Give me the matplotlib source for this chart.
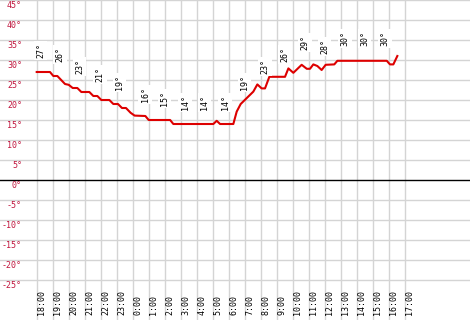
# Temperature over 24h, redrawn from a small web widget chart.
import matplotlib
matplotlib.use("Agg")
import matplotlib.pyplot as plt
import numpy as np

# hours after 18:00 and temperature readings
hours = [0.0, 0.83, 1.04, 1.29, 1.77, 2.0, 2.25, 2.54, 2.79, 3.29, 3.54, 3.79,
         4.04, 4.54, 4.79, 5.08, 5.33, 5.58, 5.87, 6.12, 6.79, 7.0, 8.34, 8.54,
         11.04, 11.25, 11.46, 12.29, 12.5, 12.75, 13.54, 13.79, 14.06, 14.27,
         14.54, 15.52, 15.73, 16.04, 16.56, 16.88, 17.08, 17.29, 17.54, 17.81,
         18.06, 18.6, 18.79, 21.88, 22.08, 22.29, 22.54]
temps = [27.0, 27.0, 26.0, 26.0, 24.0, 23.8, 23.0, 23.0, 22.0, 22.0, 21.0, 21.0,
         20.0, 20.0, 19.0, 19.0, 18.0, 18.0, 16.8, 16.1, 16.0, 15.0, 15.0, 14.0,
         14.0, 14.8, 14.0, 14.0, 17.1, 19.0, 22.1, 23.9, 22.9, 22.9,
         25.8, 25.8, 27.9, 26.8, 28.8, 27.8, 27.8, 28.9, 28.5, 27.5,
         28.8, 28.9, 29.8, 29.8, 28.9, 28.9, 31.0]

# rounded labels written above the line
label_hours = [0.25, 1.46, 2.7, 3.96, 5.2, 6.77, 8.0, 9.27, 10.5, 11.77,
               13.0, 14.27, 15.5, 16.77, 18.0, 19.27, 20.5, 21.77]
label_temps = [27, 26, 23, 21, 19, 16, 15, 14, 14, 14,
               19, 23, 26, 29, 28, 30, 30, 30]

hour_labels = ["18:00", "19:00", "20:00", "21:00", "22:00", "23:00",
               "0:00", "1:00", "2:00", "3:00", "4:00", "5:00", "6:00",
               "7:00", "8:00", "9:00", "10:00", "11:00", "12:00", "13:00",
               "14:00", "15:00", "16:00", "17:00"]
y_ticks = list(range(-25, 50, 5))

fig = plt.figure(figsize=(4.7, 3.2), dpi=100)
ax = fig.add_axes([0, 0, 1, 1])
ax.set_xlim(-36.7 / 16, (470 - 36.7) / 16)
ax.set_ylim(-35, 45)
ax.axis("off")

grid = "#d4d4d4"
for t in y_ticks:
    if t == 0:
        ax.axhline(0, color="black", lw=1.0, zorder=2)
    else:
        ax.axhline(t, color=grid, lw=1, zorder=1)
    ax.text(-0.92, t - 1.4, str(t) + "°", ha="right", va="center",
            color="#c0143c", fontsize=6, family="DejaVu Sans Mono")

for i, lab in enumerate(hour_labels):
    ax.axvline(i, color=grid, lw=1, zorder=1)
    ax.text(i + 0.31, -33.8, lab, rotation=90, ha="center", va="bottom",
            fontsize=6, family="DejaVu Sans Mono")

ax.plot(hours, temps, color="#dd0000", lw=1.5, zorder=3)

for h, t in zip(label_hours, label_temps):
    ax.text(h, t + 3.5, str(t) + "°", rotation=90, ha="center", va="bottom",
            fontsize=6, family="DejaVu Sans Mono", zorder=4,
            bbox=dict(facecolor="white", edgecolor="none", pad=1.5))

fig.savefig("out.png", dpi=100)
